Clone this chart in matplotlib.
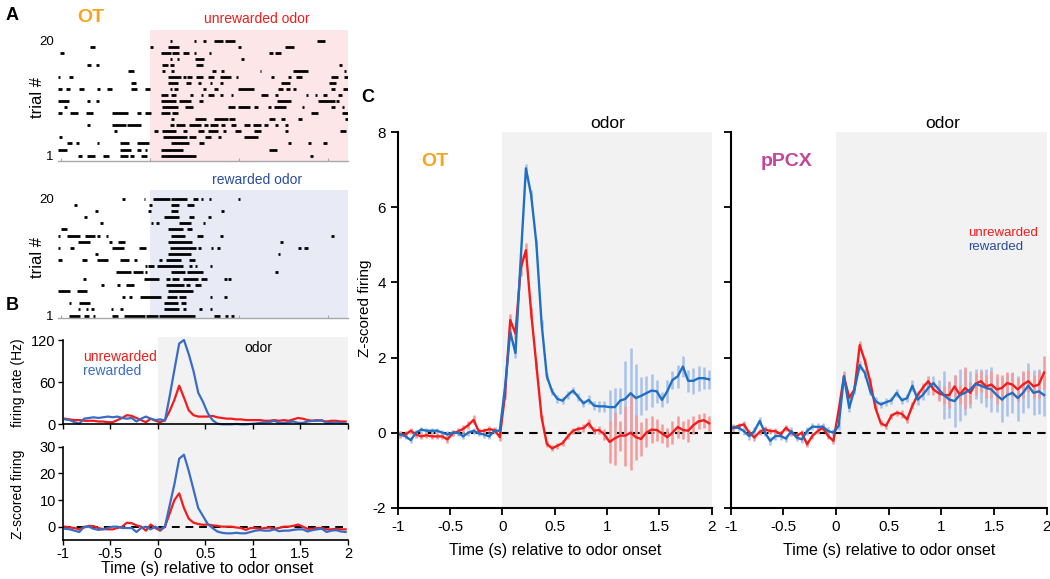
import numpy as np
import matplotlib
matplotlib.use('Agg')
import matplotlib.pyplot as plt
from matplotlib.patches import Rectangle

plt.rcParams['font.family'] = ['Liberation Sans', 'DejaVu Sans']
plt.rcParams['axes.unicode_minus'] = False

# ---------------- DATA ----------------
# Raster spikes (start, end) in s, trial 1 .. 20
raster_unrewarded = [
    [(-0.81,-0.76),(-0.70,-0.61),(-0.53,-0.46),(-0.34,-0.25),(-0.22,-0.18),(-0.10,-0.03),(0.12,0.52),(1.79,1.83)],
    [(-1.03,-0.93),(-0.34,-0.21),(-0.14,-0.10),(-0.06,-0.03),(0.12,0.37),(1.34,1.42)],
    [(-0.93,-0.87),(-0.83,-0.79),(-0.59,-0.57),(-0.33,-0.23),(-0.15,-0.01),(0.24,0.44),(0.55,0.61),(1.55,1.58),(1.77,1.80),(1.94,1.98)],
    [(-1.02,-0.98),(0.15,0.42),(0.44,0.52),(0.62,0.69),(0.76,0.80),(1.06,1.21)],
    [(-0.40,-0.37),(0.05,0.09),(0.14,0.29),(0.37,0.42),(0.54,0.61),(0.65,0.76),(0.82,0.85),(0.95,1.02),(1.17,1.25),(1.51,1.55),(2.13,2.20)],
    [(-0.70,-0.67),(-0.42,-0.27),(-0.26,-0.10),(0.22,0.27),(0.29,0.39),(0.44,0.57),(0.61,0.65),(0.67,0.76),(0.80,0.84),(0.91,0.97),(1.06,1.12),(1.16,1.24),(1.28,1.32),(1.40,1.43),(1.51,1.55)],
    [(0.24,0.27),(0.50,0.63),(0.72,0.87),(0.89,0.95),(1.34,1.40),(1.47,1.51),(1.66,1.70),(2.19,2.22)],
    [(-1.03,-0.98),(-0.89,-0.81),(-0.72,-0.64),(-0.42,-0.25),(-0.14,-0.10),(-0.06,0.01),(0.12,0.22),(0.25,0.31),(1.81,1.88),(2.15,2.22)],
    [(-0.96,-0.93),(0.14,0.31),(0.39,0.48),(0.87,0.95),(0.99,1.12),(1.17,1.21),(1.32,1.36),(1.39,1.53),(1.70,1.73),(2.03,2.07),(2.15,2.18)],
    [(-1.03,-0.91),(-0.70,-0.67),(-0.60,-0.57),(0.12,0.29),(0.33,0.46),(0.55,0.59),(1.42,1.58),(1.88,2.07),(2.09,2.12)],
    [(0.12,0.20),(0.24,0.29),(0.45,0.48),(0.57,0.60),(0.65,0.72),(0.78,0.82),(0.91,0.93),(1.25,1.32),(1.40,1.43),(1.75,1.77),(1.85,1.87),(1.94,1.98),(2.11,2.15)],
    [(-1.03,-0.98),(-0.94,-0.89),(-0.79,-0.74),(-0.59,-0.56),(-0.48,-0.42),(-0.21,-0.15),(-0.06,0.00),(0.22,0.25),(0.27,0.31),(0.59,0.63),(0.72,0.76),(0.99,1.17),(1.43,1.49),(1.53,1.57),(1.60,1.64),(2.03,2.07),(2.16,2.22)],
    [(-0.21,-0.16),(0.20,0.31),(0.40,0.46),(0.54,0.57),(0.67,0.70),(0.78,0.82),(1.47,1.57),(2.01,2.09)],
    [(-1.03,-1.01),(-0.91,-0.86),(0.20,0.35),(0.37,0.40),(0.42,0.47),(0.52,0.59),(0.65,0.72),(0.78,0.91),(0.97,0.99),(1.36,1.39),(1.55,1.58),(1.64,1.70),(2.03,2.11),(2.18,2.22)],
    [(-0.25,-0.18),(0.14,0.17),(0.24,0.27),(0.70,0.74),(0.80,0.83),(1.23,1.25),(1.60,1.77),(2.18,2.20)],
    [(-0.70,-0.66),(-0.60,-0.57),(0.13,0.20),(0.23,0.27),(0.52,0.59),(2.12,2.15)],
    [(0.22,0.25),(0.30,0.33),(0.50,0.61),(1.02,1.05)],
    [(-1.01,-0.96),(0.12,0.24),(0.25,0.33),(0.37,0.44),(0.49,0.52),(0.66,0.69),(1.34,1.38),(1.40,1.47)],
    [(-0.67,-0.61),(0.00,0.03),(0.20,0.33),(0.99,1.02),(1.51,1.62)],
    [(0.22,0.25),(0.49,0.52),(0.59,0.63),(0.72,0.82),(0.84,0.95),(1.87,1.96)],
]
raster_rewarded = [
    [(-0.91,-0.78),(-0.74,-0.68),(-0.64,-0.62),(-0.42,-0.36),(-0.29,-0.06),(-0.04,0.09),(0.10,0.50),(0.72,0.78),(0.84,0.87),(0.91,0.94)],
    [(-0.81,-0.78),(-0.72,-0.69),(-0.66,-0.63),(-0.44,-0.41),(-0.33,-0.30),(0.16,0.33),(0.37,0.40),(0.55,0.58),(0.67,0.70)],
    [(-0.91,-0.88),(-0.79,-0.67),(0.16,0.31),(0.35,0.41)],
    [(-0.31,-0.28),(-0.23,-0.20),(-0.11,0.12),(0.19,0.30),(0.33,0.41),(0.67,0.70),(0.83,0.86)],
    [(-1.03,-0.90),(-0.82,-0.70),(0.20,0.48)],
    [(-0.55,-0.52),(-0.37,-0.34),(-0.27,-0.18),(0.18,0.38),(0.40,0.45),(0.51,0.57)],
    [(-0.75,-0.72),(-0.07,0.10),(0.18,0.22),(0.25,0.33),(0.37,0.54),(0.57,0.64),(0.83,0.86),(0.88,0.91)],
    [(-0.38,-0.21),(-0.19,-0.08),(-0.06,-0.03),(0.24,0.39),(0.42,0.59),(1.40,1.43)],
    [(-0.06,-0.03),(-0.02,0.05),(0.08,0.37),(0.44,0.47),(0.51,0.53),(0.67,0.70)],
    [(-1.03,-0.99),(-0.76,-0.71),(-0.59,-0.47),(-0.34,-0.23),(-0.18,-0.15),(0.10,0.14),(0.18,0.35),(0.44,0.51)],
    [(-0.61,-0.58),(0.20,0.46),(1.43,1.46)],
    [(-1.03,-1.01),(-0.89,-0.85),(-0.42,-0.29),(-0.12,-0.04),(0.22,0.52),(0.54,0.57),(0.68,0.71),(0.75,0.78),(1.66,1.69),(1.73,1.77)],
    [(-0.81,-0.67),(-0.46,-0.42),(-0.36,-0.28),(0.20,0.47),(1.46,1.49)],
    [(-1.03,-1.01),(-0.93,-0.78),(-0.73,-0.62),(-0.59,-0.56),(-0.49,-0.47),(0.24,0.39),(0.53,0.60),(0.78,0.82),(2.03,2.06)],
    [(-1.00,-0.93),(0.20,0.37),(0.42,0.47)],
    [(-0.56,-0.53),(0.01,0.04),(0.07,0.10),(0.33,0.46),(0.59,0.62)],
    [(-0.74,-0.71),(0.16,0.33),(0.44,0.49),(0.65,0.68)],
    [(-0.61,-0.58),(-0.02,0.01),(0.24,0.31),(0.80,0.83)],
    [(-0.85,-0.82),(-0.01,0.02),(0.24,0.33),(0.42,0.49)],
    [(-0.31,-0.28),(-0.07,-0.05),(0.04,0.22),(0.24,0.42),(0.48,0.54),(0.57,0.60),(0.66,0.69),(0.99,1.01)],
]

# PSTH bins: 50 ms, centres from -0.975 to 1.975 s
bin_width = 0.05
bins = np.round(-1 + bin_width / 2 + bin_width * np.arange(60), 3)

# Panel B: single OT neuron
rate_unrewarded = [8, 7, 6, 6, 5, 5, 5, 4, 4, 3,
                   3, 6, 9, 13, 12, 9, 6, 3, 8, 5,
                   3, 6, 19, 35, 55, 38, 20, 13, 11, 11,
                   11, 12, 10, 9, 8, 8, 7, 7, 6, 6,
                   6, 6, 5, 5, 6, 5, 6, 5, 7, 9,
                   8, 6, 5, 6, 5, 4, 5, 5, 4, 4]
rate_rewarded = [7, 6, 3, 1, 8, 9, 10, 9, 10, 11,
                 10, 11, 9, 8, 9, 4, 8, 11, 8, 6,
                 7, 5, 40, 78, 115, 120, 100, 76, 45, 32,
                 16, 6, 1, 0, 0, 0, 0.5, 0, 0, 0.5,
                 1, 2, 3, 3, 5, 2, 2, 3, 4, 2,
                 2, 4, 5, 5, 6, 2, 2, 3, 2, 1]
z_unrewarded = [0, -0.3, -0.5, -1, -0.3, 0.3, 0.2, -0.5, -0.9, -1,
                -1, -0.5, 0, 1.5, 1.3, 0.5, 0, -1.5, 0.8, -0.5,
                -1.5, 0, 5, 10, 12.5, 7, 3, 1.5, 1, 0.7,
                0.8, 0.5, 0.3, 0, 0, 0, -0.3, -0.5, -1.2, -0.5,
                -0.5, -0.8, -0.5, -0.3, -0.8, -0.5, 0, 0, 0.3, 0.8,
                0, -0.8, -0.8, -0.5, -0.5, -1, -1, -0.8, -1, -1]
z_rewarded = [-0.8, -1, -1.5, -2, 0, 0, -0.8, -1.2, -1, -0.5,
              0, 0, -0.5, -0.5, -0.5, -2, -0.5, 0, -1, 0,
              -1, 0, 8, 16, 25.5, 27, 21, 14, 7, 4,
              1, -0.5, -1.8, -2.3, -2.5, -2.5, -2.3, -2.5, -2.5, -2,
              -1.5, -1.3, -1.5, -1.5, -1, -1.7, -1.5, -1.5, -1.2, -1,
              -1, -1.8, -1.3, -1, -0.8, -2, -1.5, -1.3, -1.8, -2]

# Panel C: population Z-scored firing (mean, SEM)
ot_unrew_mean = [-0.05, -0.05, 0.05, -0.05, -0.1, -0.07, -0.1, -0.1, -0.1, -0.18,
                 -0.02, 0.03, 0.1, 0.2, 0.34, 0.03, 0.05, 0.09, 0.07, -0.12,
                 1.0, 3.0, 2.64, 4.37, 4.86, 3.2, 1.8, 0.4, -0.3, -0.42,
                 -0.35, -0.28, -0.1, 0.05, 0.1, 0.12, 0.25, 0.05, 0.07, -0.05,
                 -0.25, -0.15, -0.08, -0.08, 0.0, -0.12, -0.17, 0.0, 0.08, 0.07,
                 -0.02, -0.12, 0.0, 0.15, 0.07, 0.05, 0.2, 0.3, 0.33, 0.25]
ot_unrew_sem = [0.08, 0.08, 0.08, 0.08, 0.08, 0.08, 0.08, 0.08, 0.08, 0.1,
                0.08, 0.08, 0.1, 0.1, 0.12, 0.08, 0.08, 0.08, 0.08, 0.1,
                0.1, 0.15, 0.15, 0.2, 0.2, 0.15, 0.1, 0.08, 0.08, 0.08,
                0.08, 0.08, 0.08, 0.08, 0.08, 0.1, 0.12, 0.1, 0.1, 0.15,
                0.55, 0.7, 0.4, 0.8, 1.0, 0.6, 0.45, 0.38, 0.35, 0.3,
                0.25, 0.25, 0.3, 0.3, 0.25, 0.3, 0.25, 0.2, 0.2, 0.2]
ot_rew_mean = [-0.05, -0.1, -0.2, 0.0, 0.08, 0.05, 0.05, 0.05, 0.0, -0.05,
               0.0, 0.0, -0.1, 0.0, 0.05, -0.02, -0.05, -0.1, 0.05, 0.05,
               1.2, 2.68, 2.12, 4.6, 7.04, 6.33, 5.04, 2.9, 1.5, 1.1,
               0.9, 0.85, 1.0, 1.12, 0.95, 0.78, 0.87, 0.72, 0.7, 0.7,
               0.68, 0.68, 0.85, 0.9, 1.05, 0.92, 0.98, 1.05, 1.12, 1.1,
               0.87, 1.1, 1.4, 1.5, 1.76, 1.38, 1.38, 1.45, 1.45, 1.42]
ot_rew_sem = [0.08, 0.08, 0.08, 0.08, 0.08, 0.08, 0.08, 0.08, 0.08, 0.08,
              0.08, 0.08, 0.08, 0.08, 0.08, 0.08, 0.08, 0.08, 0.08, 0.08,
              0.1, 0.12, 0.12, 0.12, 0.12, 0.12, 0.1, 0.1, 0.1, 0.1,
              0.1, 0.1, 0.1, 0.1, 0.1, 0.1, 0.12, 0.12, 0.15, 0.15,
              0.45, 0.5, 0.35, 1.0, 1.2, 0.9, 0.5, 0.45, 0.45, 0.3,
              0.2, 0.3, 0.25, 0.3, 0.27, 0.3, 0.35, 0.33, 0.3, 0.25]
ppcx_unrew_mean = [0.13, 0.18, 0.22, 0.0, -0.13, 0.02, 0.09, 0.04, 0.04, -0.04,
                   0.13, 0.0, -0.09, 0.0, -0.31, -0.09, 0.04, 0.13, -0.09, -0.22,
                   0.6, 1.5, 0.93, 1.15, 2.33, 1.9, 1.35, 0.65, 0.25, 0.18,
                   0.45, 0.53, 0.5, 0.35, 0.72, 1.0, 1.2, 1.37, 1.15, 1.05,
                   1.0, 1.0, 1.23, 1.01, 1.19, 1.06, 1.3, 1.37, 1.23, 1.28,
                   1.15, 1.19, 1.32, 1.28, 1.15, 1.28, 1.37, 1.23, 1.28, 1.6]
ppcx_unrew_sem = [0.08] * 20 + [
                  0.1, 0.12, 0.1, 0.1, 0.12, 0.1, 0.1, 0.08, 0.08, 0.08,
                  0.08, 0.08, 0.1, 0.1, 0.1, 0.1, 0.12, 0.15, 0.15, 0.2,
                  0.25, 0.35, 0.3, 0.25, 0.55, 0.3, 0.3, 0.28, 0.3, 0.35,
                  0.4, 0.35, 0.3, 0.3, 0.3, 0.35, 0.3, 0.3, 0.35, 0.45]
ppcx_rew_mean = [0.13, 0.13, 0.04, -0.09, 0.04, 0.31, 0.0, -0.22, -0.09, -0.09,
                 -0.16, 0.04, -0.13, -0.18, 0.04, 0.16, 0.15, 0.16, 0.04, 0.0,
                 0.18, 1.5, 0.66, 1.15, 1.8, 1.58, 1.1, 0.84, 0.75, 0.81,
                 0.86, 1.06, 0.86, 0.92, 1.25, 0.88, 1.01, 1.19, 1.32, 1.15,
                 1.0, 0.88, 0.84, 1.0, 1.06, 1.15, 1.3, 1.25, 1.19, 1.15,
                 1.0, 0.88, 1.0, 1.06, 0.92, 1.06, 1.25, 1.06, 1.1, 1.0]
ppcx_rew_sem = [0.1] * 20 + [
                0.12, 0.15, 0.12, 0.12, 0.12, 0.12, 0.1, 0.1, 0.1, 0.1,
                0.1, 0.1, 0.1, 0.1, 0.15, 0.15, 0.15, 0.2, 0.2, 0.25,
                0.65, 0.5, 0.7, 0.7, 0.6, 0.5, 0.4, 0.45, 0.5, 0.6,
                0.45, 0.6, 0.55, 0.55, 0.6, 0.55, 0.6, 0.6, 0.6, 0.55]

x_ticks = [-1, -0.5, 0, 0.5, 1, 1.5, 2]
x_ticklabels = ['-1', '-0.5', '0', '0.5', '1', '1.5', '2']

# ---------------- STYLE ----------------
RED = '#f21c1c'
BLUE_B = '#3a6cc6'
BLUE_C = '#1f6fc4'
RED_ERR = '#f59a9a'
BLUE_ERR = '#a9c2ea'
LEG_BLUE = '#2b4c9e'
ORANGE = '#f7a51e'
MAGENTA = '#c4469c'
GRAY = '#f2f2f2'
PINK = '#fce6e8'
LAVENDER = '#e8eaf5'

W, H = 1050, 579
fig = plt.figure(figsize=(W / 100, H / 100), dpi=100)


def axpx(x0, y0, x1, y1):
    ax = fig.add_axes([x0 / W, 1 - y1 / H, (x1 - x0) / W, (y1 - y0) / H])
    ax.set_facecolor('none')
    return ax


def txt(x, y, s, **kw):
    kw.setdefault('ha', 'center')
    kw.setdefault('va', 'center')
    fig.text(x / W, 1 - y / H, s, **kw)


# ---------------- Panel A: rasters ----------------
def raster(ax, trials, shade, ylim):
    ax.set_xlim(-1.03, 2.22)
    ax.set_ylim(*ylim)
    ax.axvspan(0, 2.22, color=shade, lw=0, zorder=0)
    ys, xs0, xs1 = [], [], []
    for i, segs in enumerate(trials, start=1):
        for s, e in segs:
            ys.append(i); xs0.append(s); xs1.append(e)
    ax.hlines(ys, xs0, xs1, color='black', lw=2.0, zorder=2)
    for sp in ['top', 'right', 'left']:
        ax.spines[sp].set_visible(False)
    ax.spines['bottom'].set_color('#a8a8a8')
    ax.spines['bottom'].set_linewidth(1.0)
    ax.set_xticks([-1, 0, 1, 2])
    ax.tick_params(axis='x', direction='in', length=2.5, color='#a8a8a8',
                   labelbottom=False)
    ax.set_yticks([1, 20])
    ax.set_yticklabels(['1', '20'], fontsize=9.5)
    ax.tick_params(axis='y', length=0, pad=3)


axA1 = axpx(58, 30, 348, 161)
raster(axA1, raster_unrewarded, PINK, (0.1, 21.8))
axA2 = axpx(58, 190, 348, 318)
raster(axA2, raster_rewarded, LAVENDER, (0.6, 21.4))

txt(38, 97, 'trial #', fontsize=12, rotation=90)
txt(38, 258, 'trial #', fontsize=12, rotation=90)
txt(12, 16, 'A', fontsize=13, fontweight='bold')
txt(91, 18, 'OT', fontsize=14, fontweight='bold', color=ORANGE)
txt(257, 19, 'unrewarded odor', fontsize=10, color=RED)
txt(257, 180, 'rewarded odor', fontsize=10, color=LEG_BLUE)
txt(12, 305, 'B', fontsize=13, fontweight='bold')

# ---------------- Panel B: single unit PSTH ----------------
axB1 = axpx(62.7, 340, 348, 424.3)
axB2 = axpx(62.7, 446.7, 348, 540)
for ax in (axB1, axB2):
    ax.set_xlim(-1, 2)
    for sp in ['top', 'right']:
        ax.spines[sp].set_visible(False)
    for sp in ['left', 'bottom']:
        ax.spines[sp].set_linewidth(1.2)
    ax.set_xticks(x_ticks)
    ax.tick_params(length=3.5, width=1.0, labelsize=10.5, pad=1.5)

# gray odor shading spanning both B subplots (drawn behind the axes)
fig.canvas.draw()
inv = fig.transFigure.inverted()
bx0 = inv.transform(axB1.transData.transform((0, 0)))[0]
bx1 = inv.transform(axB1.transData.transform((2, 0)))[0]
btop = 1 - 337 / H
bbot = axB2.get_position().y0
fig.patches.append(Rectangle((bx0, bbot), bx1 - bx0, btop - bbot,
                             transform=fig.transFigure, color=GRAY, lw=0,
                             zorder=-1))

axB1.plot(bins, rate_unrewarded, color=RED, lw=1.6, clip_on=False)
axB1.plot(bins, rate_rewarded, color=BLUE_B, lw=1.6, clip_on=False)
axB1.set_ylim(0, 120)
axB1.set_yticks([0, 60, 120])
axB1.tick_params(axis='x', labelbottom=False)

axB2.axhline(0, color='black', lw=1.4, ls=(0, (4, 3)), zorder=1)
axB2.plot(bins, z_unrewarded, color=RED, lw=1.6)
axB2.plot(bins, z_rewarded, color=BLUE_B, lw=1.6)
axB2.set_ylim(-5, 30)
axB2.set_yticks([0, 10, 20, 30])
axB2.set_xticklabels(x_ticklabels)

txt(18, 383, 'firing rate (Hz)', fontsize=10, rotation=90)
txt(18, 494, 'Z-scored firing', fontsize=10, rotation=90)
txt(207, 568, 'Time (s) relative to odor onset', fontsize=11.5)
txt(83, 357, 'unrewarded', fontsize=10, color=RED, ha='left')
txt(83, 371, 'rewarded', fontsize=10, color=BLUE_B, ha='left')
txt(258, 348, 'odor', fontsize=10, color='black')

# ---------------- Panel C: population ----------------
axC1 = axpx(397.7, 132.3, 711.7, 507.7)
axC2 = axpx(730.7, 132.3, 1046.7, 507.7)
series = [
    (axC1, ot_unrew_mean, ot_unrew_sem, ot_rew_mean, ot_rew_sem),
    (axC2, ppcx_unrew_mean, ppcx_unrew_sem, ppcx_rew_mean, ppcx_rew_sem),
]
for ax, um, us, rm, rs in series:
    ax.set_xlim(-1, 2)
    ax.set_ylim(-2, 8)
    ax.axvspan(0, 2, color=GRAY, lw=0, zorder=0)
    ax.axhline(0, color='black', lw=1.5, ls=(0, (4, 3)), zorder=1)
    um, us, rm, rs = map(np.asarray, (um, us, rm, rs))
    ax.vlines(bins, rm - rs, rm + rs, color=BLUE_ERR, lw=1.8, zorder=2)
    ax.vlines(bins, um - us, um + us, color=RED_ERR, lw=1.8, zorder=2)
    ax.plot(bins, um, color=RED, lw=1.7, zorder=3)
    ax.plot(bins, rm, color=BLUE_C, lw=1.7, zorder=4)
    for sp in ['top', 'right']:
        ax.spines[sp].set_visible(False)
    for sp in ['left', 'bottom']:
        ax.spines[sp].set_linewidth(1.5)
    ax.set_xticks(x_ticks)
    ax.set_xticklabels(x_ticklabels)
    ax.set_yticks([-2, 0, 2, 4, 6, 8])
    ax.tick_params(length=5, width=1.3, labelsize=11, pad=3.5)

axC2.tick_params(axis='y', labelleft=False)

txt(365, 308, 'Z-scored firing', fontsize=11, rotation=90)
txt(555, 550, 'Time (s) relative to odor onset', fontsize=11.5)
txt(889, 550, 'Time (s) relative to odor onset', fontsize=11.5)
txt(368, 97, 'C', fontsize=13, fontweight='bold')
txt(608, 123, 'odor', fontsize=12.5)
txt(943, 123, 'odor', fontsize=12.5)
txt(435, 161, 'OT', fontsize=14, fontweight='bold', color=ORANGE)
txt(787, 162, 'pPCX', fontsize=14, fontweight='bold', color=MAGENTA)
txt(968, 233, 'unrewarded', fontsize=9.5, color=RED, ha='left')
txt(968, 247, 'rewarded', fontsize=9.5, color=LEG_BLUE, ha='left')

fig.savefig('out.png', dpi=100, facecolor='white')
